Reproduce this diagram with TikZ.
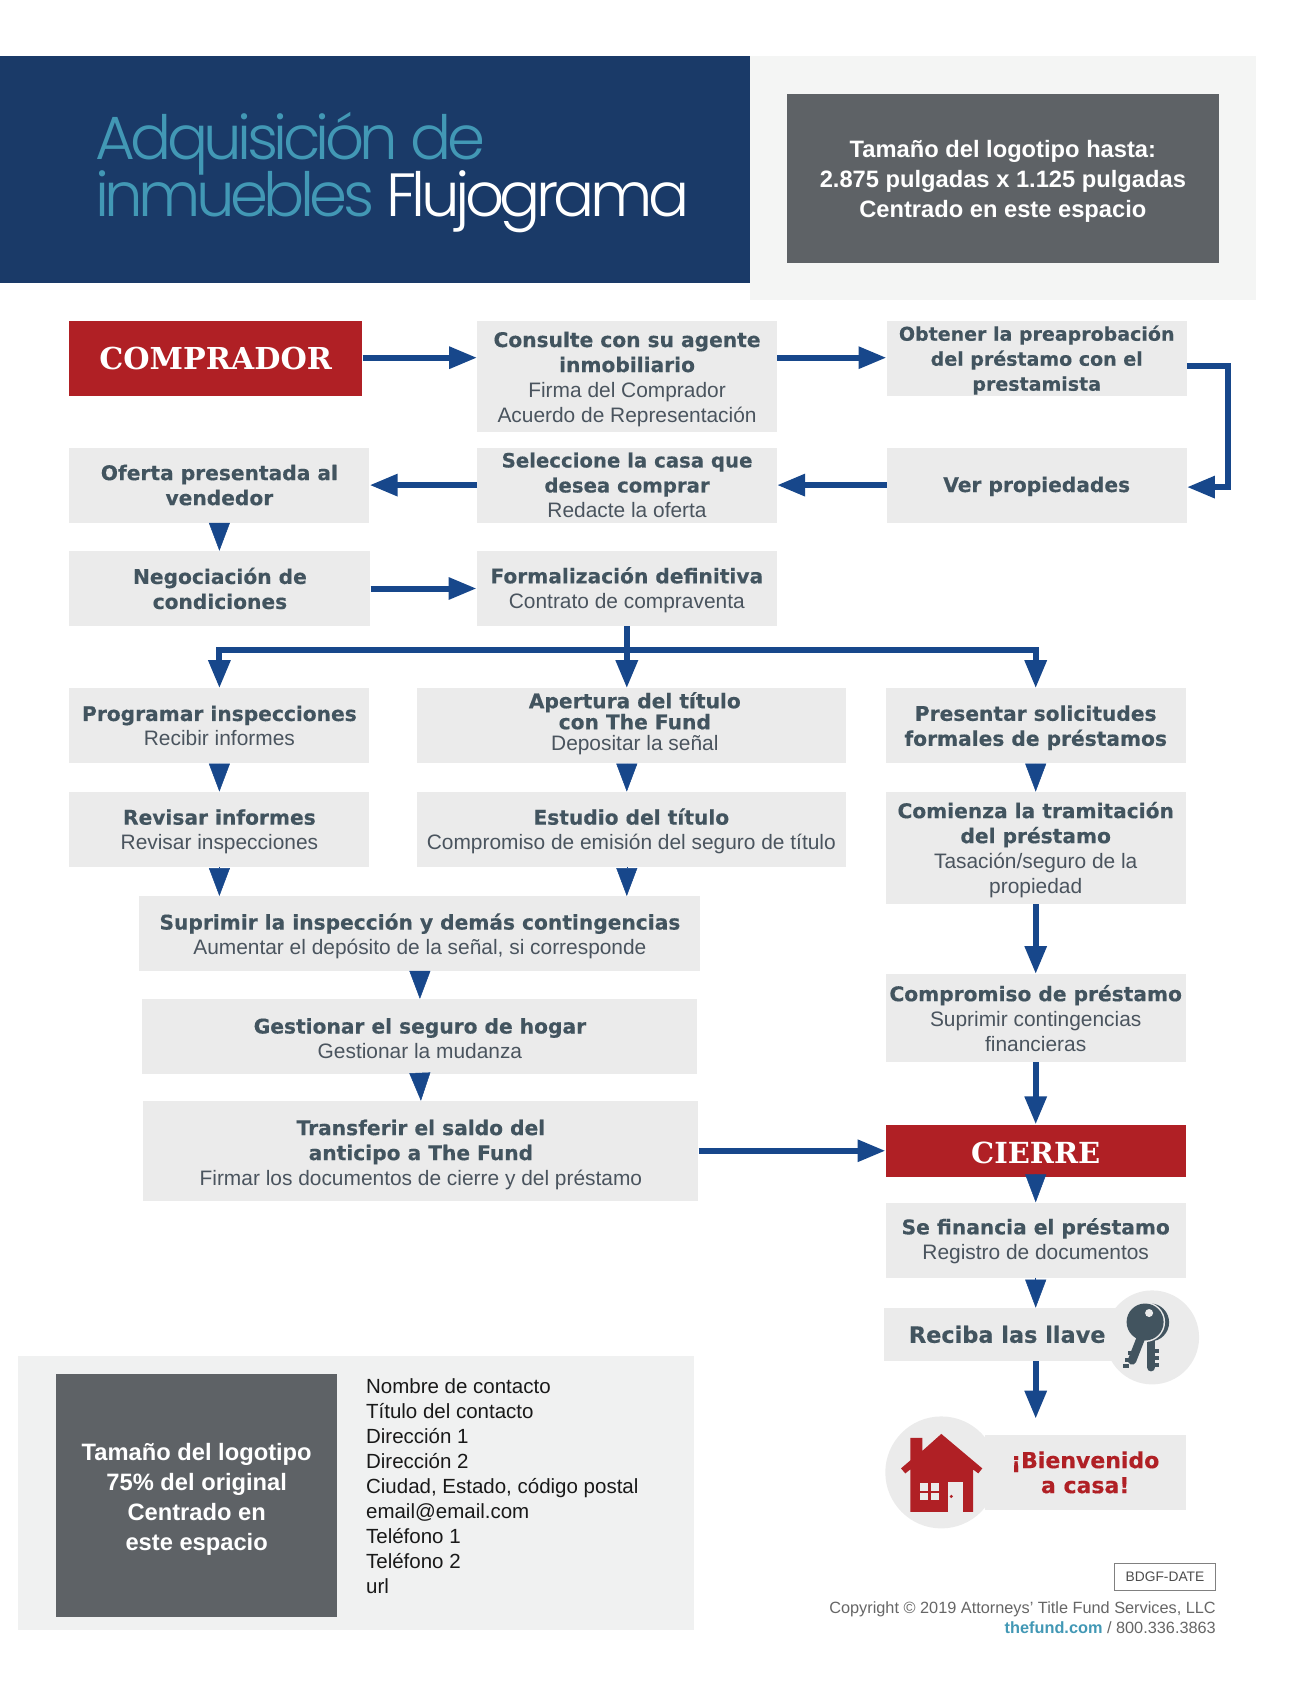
\documentclass[tikz,border=0pt]{standalone}
\usepackage{fontspec}
\setmainfont{Liberation Sans}
\newfontfamily\hdfont{DejaVu Sans}[BoldFeatures={FakeBold=0.4}]
\newfontfamily\slabfont{DejaVu Serif}
\newfontfamily\titlefont{Poppins Light}[LetterSpace=-7.5]
\usetikzlibrary{positioning,arrows.meta,calc}
\definecolor{navy}{HTML}{1A3A68}
\definecolor{panelgray}{HTML}{F4F5F4}
\definecolor{contactgray}{HTML}{F0F1F1}
\definecolor{logogray}{HTML}{5E6266}
\definecolor{boxgray}{HTML}{EBEBEB}
\definecolor{slate}{HTML}{42545F}
\definecolor{bodytext}{HTML}{4A545E}
\definecolor{alertred}{HTML}{B02025}
\definecolor{arrowblue}{HTML}{17478B}
\definecolor{teal}{HTML}{4298B5}
\newcommand{\hd}{\hdfont\bfseries\fontsize{20.2}{25}\selectfont\color{slate}}
\newcommand{\hdat}[1]{\hd\fontsize{#1}{25}\selectfont}
\newcommand{\rg}{\normalfont\fontsize{20.9}{25}\selectfont\color{bodytext}}
\newcommand{\wl}{\hdfont\bfseries\fontsize{22}{20}\selectfont\color{alertred}}
\newcommand{\dn}[1]{\rule{0pt}{#1pt}}

\begin{document}
\begin{tikzpicture}[
    box/.style={fill=boxgray, inner sep=0pt, align=center, font=\rg},
    stdbox/.style={box, minimum width=300pt, minimum height=75pt},
    redbox/.style={fill=alertred, text=white, inner sep=0pt, font=\slabfont\bfseries\fontsize{30.2}{36}\selectfont},
    logobox/.style={fill=logogray, text=white, inner sep=0pt, align=center, font=\bfseries\fontsize{23.7}{30}\selectfont},
    disc/.style={circle, fill=boxgray, inner sep=0pt},
    arr/.style={-{Triangle[length=28pt,width=21pt]}, line width=6pt, arrowblue},
    wedge/.style={-{Triangle[length=28pt,width=21pt]}, line width=0.5pt, arrowblue}
]
\useasboundingbox (0,0) rectangle (1313pt,-1688pt);

\node[fill=navy, minimum width=749.5pt, minimum height=226.5pt, anchor=north west, inner sep=0pt] (header) at (0,-56pt) {};
\node[right=95pt of header.west, yshift=-3pt, anchor=west, inner sep=0pt, align=left, font=\titlefont\fontsize{61}{58}\selectfont, text=teal] (title) {Adquisición de\\[-5pt]inmuebles \textcolor{white}{Flujograma}};
\node[fill=panelgray, minimum width=505.5pt, minimum height=244pt, inner sep=0pt, right=0pt of header.north east, anchor=north west] (logopanel) {};
\node[logobox, minimum width=431.5pt, minimum height=169pt] (logo) at (logopanel) {\dn{23}Tamaño del logotipo hasta:\\2.875 pulgadas x 1.125 pulgadas\\Centrado en este espacio};

\node[redbox, minimum width=293.5pt, minimum height=75pt, anchor=north west] (buyer) at (68.7pt,-321pt) {COMPRADOR};
\node[box, minimum width=299.5pt, minimum height=111pt, right=114.5pt of buyer.north east, anchor=north west] (consult) {\dn{20}\hd Consulte con su agente\\\hd inmobiliario\\\rg Firma del Comprador\\\rg Acuerdo de Representación};
\node[stdbox, right=109.5pt of consult.north east, anchor=north west] (loan) {\dn{18}\hdat{19}Obtener la preaprobación\\\hdat{19}del préstamo con el\\\hdat{19}prestamista};
\node[stdbox, below=51pt of loan.south west, anchor=north west] (view) {\dn{18}\hd Ver propiedades};
\node[stdbox, minimum width=299.5pt, left=109.5pt of view.north west, anchor=north east] (select) {\hdat{19.7}Seleccione la casa que\\\hdat{19.7}desea comprar\\\rg Redacte la oferta};
\node[stdbox, left=107.5pt of select.north west, anchor=north east] (offer) {\hd Oferta presentada al\\\hd vendedor};
\node[stdbox, minimum width=301pt, below=28pt of offer.south west, anchor=north west] (negot) {\hd Negociación de\\\hd condiciones};
\node[stdbox, right=106pt of negot.north east, anchor=north west] (formal) {\dn{19}\hd Formalización definitiva\\\rg Contrato de compraventa};

\node[stdbox, below=62pt of negot.south west, anchor=north west] (schedule) {\hd Programar inspecciones\\\rg Recibir informes};
\node[stdbox, minimum width=429pt, right=47pt of schedule.north east, anchor=north west] (opening) {\hspace*{7pt}\hd Apertura del título\\[-4pt]\hspace*{7pt}\hd con The Fund\\[-4pt]\hspace*{7pt}\rg Depositar la señal\rule[-9.5pt]{0pt}{0pt}};
\node[stdbox, right=39.5pt of opening.north east, anchor=north west] (apply) {\dn{19}\hd Presentar solicitudes\\\hd formales de préstamos};
\node[stdbox, below=28pt of schedule.south west, anchor=north west] (reports) {\dn{20}\hd Revisar informes\\\rg Revisar inspecciones};
\node[stdbox, minimum width=429pt, below=28pt of opening.south west, anchor=north west] (study) {\dn{20}\hd Estudio del título\\\rg Compromiso de emisión del seguro de título};
\node[stdbox, minimum height=112pt, below=28pt of apply.south west, anchor=north west] (process) {\dn{20}\hd Comienza la tramitación\\\hd del préstamo\\\rg Tasación/seguro de la\\\rg propiedad};
\node[stdbox, minimum height=88pt, below=70pt of process.south west, anchor=north west] (commit) {\hd Compromiso de préstamo\\\rg Suprimir contingencias\\\rg financieras};

\node[stdbox, minimum width=561pt, below right=29pt and 70pt of reports.south west, anchor=north west] (waive) {\dn{21}\hd Suprimir la inspección y demás contingencias\\\rg Aumentar el depósito de la señal, si corresponde};
\node[stdbox, minimum width=555pt, below=27.5pt of waive.south] (insure) {\dn{19}\hd Gestionar el seguro de hogar\\\rg Gestionar la mudanza};
\node[stdbox, minimum width=555pt, minimum height=99.5pt, below=26.5pt of insure.south, xshift=1pt] (transfer) {\dn{23}\hd Transferir el saldo del\\\hd anticipo a The Fund\\\rg Firmar los documentos de cierre y del préstamo};

\node[redbox, minimum width=300pt, minimum height=52.5pt, font=\slabfont\bfseries\fontsize{29}{36}\selectfont, below=62pt of commit.south west, anchor=north west] (closing) {\dn{25}CIERRE};
\node[stdbox, below=25pt of closing.south west, anchor=north west] (funded) {\dn{18}\hd Se financia el préstamo\\\rg Registro de documentos};
\node[box, minimum width=247pt, minimum height=53pt, below=30pt of funded.south west, anchor=north west, xshift=-2pt] (keys) {\hdat{22.4}Reciba las llave};
\node[disc, minimum size=94pt, right=-26pt of keys, yshift=-3pt] (keydisc) {};
\node[box, minimum width=201pt, minimum height=75pt, below=157pt of funded.south east, anchor=north east] (welcome) {\wl ¡Bienvenido\\\wl a casa!};
\node[disc, minimum size=112pt, left=-13pt of welcome] (housedisc) {};

\begin{scope}[shift={(keydisc.center)}, x=1pt, y=-1pt]
\fill[slate] (-2,-15) circle (19);
\draw[slate, line width=8pt, line cap=round] (-1,2) -- (-1,30);
\foreach \ty in {12,19,26} \fill[slate] (2,\ty) rectangle (7,\ty+4);
\fill[boxgray] (-7,-15.4) circle (20);
\fill[slate] (-7,-15.4) circle (18.5);
\fill[boxgray] (-3,-24.4) circle (4);
\draw[boxgray, line width=12pt] (-11,4) -- (-19,24);
\draw[slate, line width=8.5pt, line cap=round] (-11,0) -- (-20,23);
\foreach \tx/\ty in {-24/14,-27/21,-29/27} \fill[slate] (\tx,\ty) rectangle (\tx+6,\ty+4);
\end{scope}

\begin{scope}[shift={(housedisc.center)}, x=1pt, y=-1pt]
\fill[alertred] (0,-38.5) -- (41,-4) -- (37,1) -- (31.7,-3) -- (31.7,39.5) -- (-31,39.5) -- (-31,-3) -- (-36,1) -- (-40.3,-4) -- (-31,-12) -- (-31,-34.5) -- (-19,-34.5) -- (-19,-21.5) -- cycle;
\fill[boxgray] (7,9.5) rectangle (22,39.5);
\fill[alertred] (10,24) circle (1.7);
\foreach \wx in {-21,-10.2} \foreach \wy in {10.5,20.2} \fill[boxgray] (\wx,\wy) rectangle (\wx+7.8,\wy+7.6);
\end{scope}

\node[fill=contactgray, minimum width=676pt, minimum height=274pt, inner sep=0pt, anchor=north west] (contact) at (18pt,-1356pt) {};
\node[logobox, minimum width=281pt, minimum height=243pt, below right=18pt and 38pt of contact.north west, anchor=north west] (smalllogo) {\dn{24}Tamaño del logotipo\\75\% del original\\Centrado en\\este espacio};
\node[below right=4.5pt and 28.5pt of smalllogo.north east, anchor=north west, inner sep=0pt, align=left, font=\normalfont\fontsize{20.5}{25}\selectfont, text=black!90] (details) {Nombre de contacto\\Título del contacto\\Dirección 1\\Dirección 2\\Ciudad, Estado, código postal\\email@email.com\\Teléfono 1\\Teléfono 2\\url};

\node[draw=black!50, line width=1pt, minimum width=101pt, minimum height=27pt, inner sep=0pt, text=black!70, font=\fontsize{13.8}{18}\selectfont, anchor=north east] (code) at (1216pt,-1562.5pt) {BDGF-DATE};
\node[below=10.5pt of code.south east, anchor=north east, inner sep=0pt, align=right, text=black!60, font=\fontsize{16.3}{20}\selectfont] (copyright) {Copyright © 2019 Attorneys’ Title Fund Services, LLC\\\textcolor{teal}{\bfseries thefund.com} / 800.336.3863};

\draw[arr] ([yshift=1pt]buyer.east) -- ([yshift=1pt]buyer.east -| consult.west);
\draw[arr] ([yshift=1pt]consult.east |- loan.west) -- ([yshift=1pt]loan.west);
\draw[arr] ([yshift=-7pt]loan.east) -- ++(41pt,0) |- ([yshift=-2pt]view.east);
\draw[arr] (view.west) -- (select.east);
\draw[arr] (select.west) -- (offer.east);
\draw[wedge] (offer.south) -- (offer.south |- negot.north);
\draw[arr] (negot.east) -- (formal.west);

\coordinate[below=24pt of formal.south] (split);
\draw[arr] (formal.south) -- (formal.south |- opening.north);
\draw[arr] (split) -| (schedule.north);
\draw[arr] (split) -| (apply.north);

\draw[wedge] (schedule.south) -- (reports.north);
\draw[wedge] (reports.south) -- (reports.south |- waive.north);
\draw[wedge] (formal.south |- opening.south) -- (formal.south |- study.north);
\draw[wedge] (formal.south |- study.south) -- (formal.south |- waive.north);
\draw[wedge] (waive.south) -- (insure.north);
\draw[wedge] (insure.south) -- (transfer.north);
\draw[arr] (transfer.east) -- (transfer.east -| closing.west);

\draw[wedge] (apply.south) -- (process.north);
\draw[arr] (process.south) -- (commit.north);
\draw[arr] (commit.south) -- (closing.north);
\draw[wedge] (closing.south) -- (funded.north);
\draw[wedge] (funded.south) -- (funded.south |- keys.north);
\draw[arr, shorten >=16pt] (funded.south |- keys.south) -- (funded.south |- welcome.north);
\end{tikzpicture}
\end{document}
